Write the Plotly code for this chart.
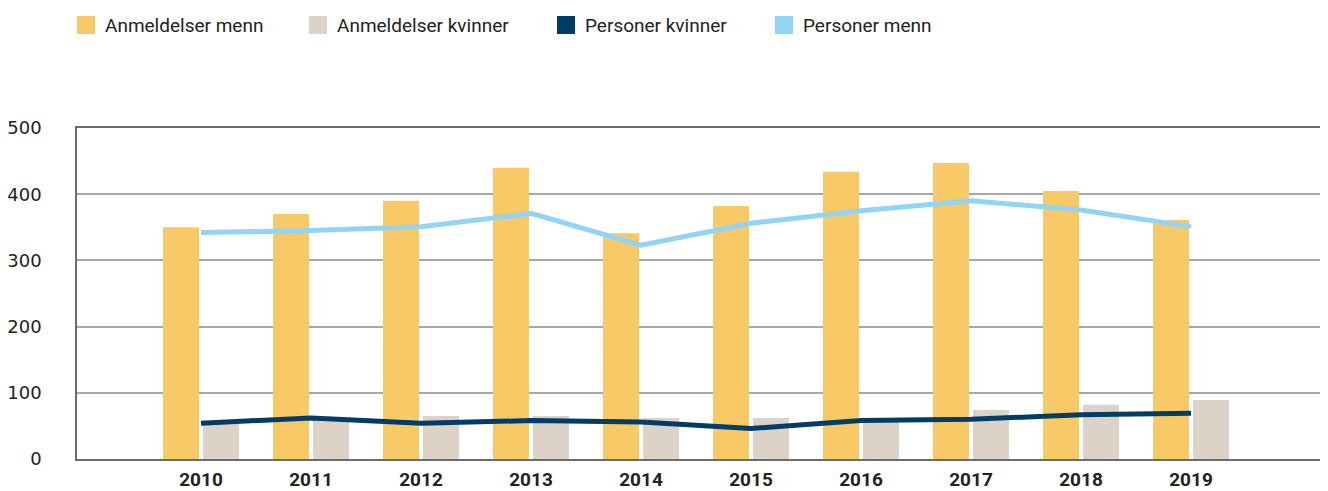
import plotly.graph_objects as go

years = [2010, 2011, 2012, 2013, 2014, 2015, 2016, 2017, 2018, 2019]
anmeldelser_menn = [350, 370, 390, 440, 341, 382, 434, 447, 405, 361]
anmeldelser_kvinner = [54, 60, 65, 65, 62, 62, 58, 74, 82, 89]
personer_kvinner = [54, 62, 54, 58, 56, 46, 58, 60, 67, 69]
personer_menn = [342, 345, 351, 371, 323, 356, 375, 390, 376, 351]

series_names = ["Anmeldelser menn", "Anmeldelser kvinner", "Personer kvinner", "Personer menn"]
colors = ["#F8C967", "#DCD2C8", "#003D66", "#92D4F6"]

# page has an 8px body margin; figure is sized so it ends at the window edge
OFF = 8
W, H = 1328 - OFF, 491 - OFF
L, R, T, B = 77 - OFF, 0, 128 - OFF, 491 - 459
pw, ph = W - L - R, H - T - B

def px_to_paper_x(px):
    return (px - OFF - L) / pw

def py_to_paper_y(py):
    return (H - B - (py - OFF)) / ph

fig = go.Figure()
fig.add_trace(go.Bar(x=years, y=anmeldelser_menn, name=series_names[0],
                     marker=dict(color=colors[0], line=dict(width=0)), showlegend=False))
fig.add_trace(go.Bar(x=years, y=anmeldelser_kvinner, name=series_names[1],
                     marker=dict(color=colors[1], line=dict(width=0)), showlegend=False))
fig.add_trace(go.Scatter(x=years, y=personer_kvinner, name=series_names[2], mode="lines",
                         line=dict(color=colors[2], width=5), showlegend=False))
fig.add_trace(go.Scatter(x=years, y=personer_menn, name=series_names[3], mode="lines",
                         line=dict(color=colors[3], width=5), showlegend=False))

# manual legend (squares + text)
legend_x = [77, 309, 557, 775]
shapes = []
annotations = []
for lx, name, col in zip(legend_x, series_names, colors):
    shapes.append(dict(type="rect", xref="paper", yref="paper",
                       x0=px_to_paper_x(lx), x1=px_to_paper_x(lx + 18),
                       y0=py_to_paper_y(34), y1=py_to_paper_y(16),
                       fillcolor=col, line=dict(width=0)))
    annotations.append(dict(xref="paper", yref="paper", x=px_to_paper_x(lx + 26),
                            y=py_to_paper_y(25), xanchor="left", yanchor="middle",
                            text=name, showarrow=False,
                            font=dict(family="Roboto", size=19, color="#222222")))

fig.update_layout(
    width=W, height=H,
    margin=dict(l=L, r=R, t=T, b=B, autoexpand=False),
    paper_bgcolor="white", plot_bgcolor="white",
    barmode="group", bargap=0.273, bargroupgap=0.1,
    shapes=shapes, annotations=annotations,
    showlegend=False,
    xaxis=dict(range=[2010 - 124 / 110, 2010 + 1127 / 110],
               tickmode="array", tickvals=years, ticktext=[str(y) for y in years],
               tickfont=dict(family="Roboto", size=19, color="#222222", weight="bold"),
               showgrid=False, zeroline=False, automargin=False,
               showline=True, linecolor="#6b6b6b", linewidth=1.5, mirror=True,
               ticks="", ticklabelstandoff=2),
    yaxis=dict(range=[0, 500], tickvals=[0, 100, 200, 300, 400, 500],
               tickfont=dict(family="DejaVu Sans", size=18, color="#222222"),
               showgrid=True, gridcolor="#a8a8a8", gridwidth=1.5, zeroline=False,
               automargin=False,
               showline=True, linecolor="#6b6b6b", linewidth=1.5,
               ticks="", ticklabelstandoff=30),
)

fig.write_html("out.html")
